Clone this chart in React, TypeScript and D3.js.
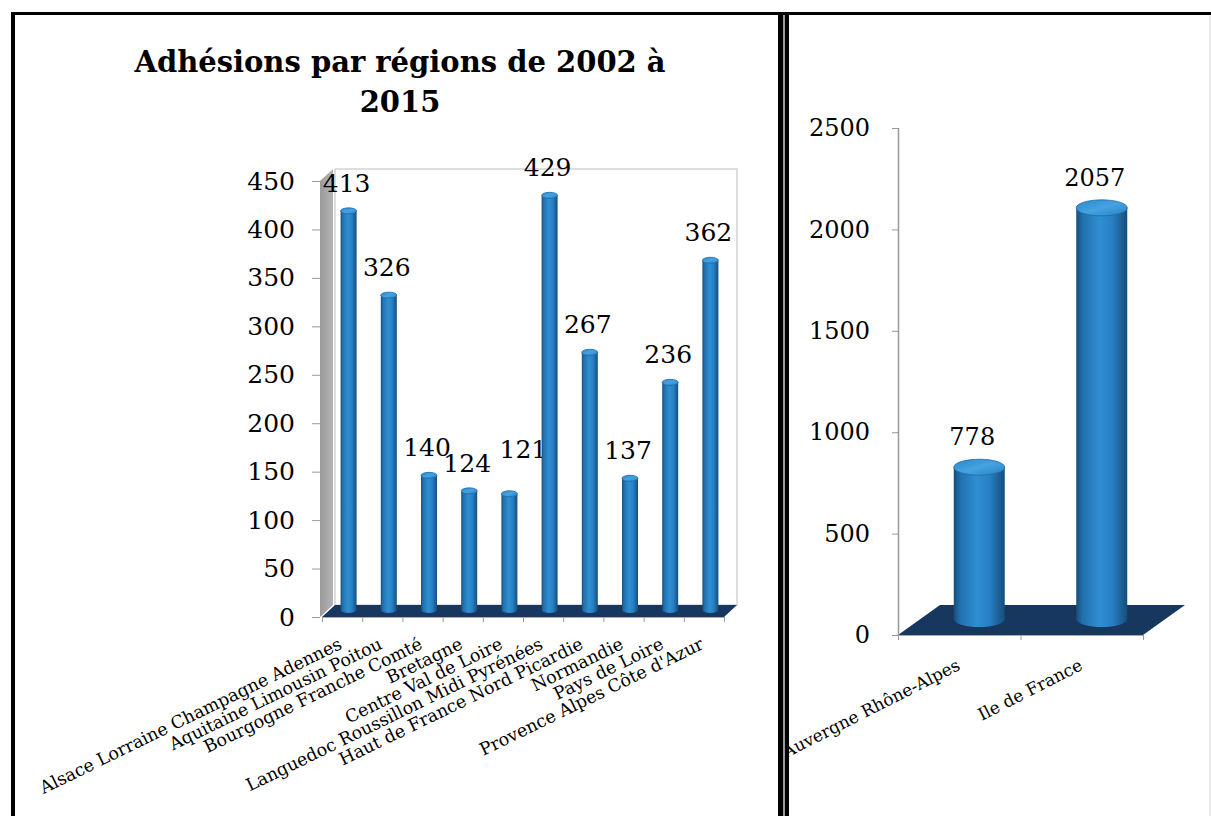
import React, { useRef, useEffect } from 'react';
import * as d3 from 'd3';

const leftRegions = [
  'Alsace Lorraine Champagne Adennes',
  'Aquitaine Limousin Poitou',
  'Bourgogne Franche Comté',
  'Bretagne',
  'Centre Val de Loire',
  'Languedoc Roussillon Midi Pyrénées',
  'Haut de France Nord Picardie',
  'Normandie',
  'Pays de Loire',
  "Provence Alpes Côte d'Azur",
];
const leftValues = [413, 326, 140, 124, 121, 429, 267, 137, 236, 362];
const leftTicks = [0, 50, 100, 150, 200, 250, 300, 350, 400, 450];

const rightRegions = ['Auvergne Rhône-Alpes', 'Ile de France'];
const rightValues = [778, 2057];
const rightTicks = [0, 500, 1000, 1500, 2000, 2500];

const titleLines = ['Adhésions par régions de 2002 à', '2015'];

const W = 1211;
const H = 816;
const numFont = '"DejaVu Serif", serif';

const App = () => {
  const ref = useRef<SVGSVGElement>(null);

  useEffect(() => {
    const svg = d3.select(ref.current);
    svg.selectAll('*').remove();

    const defs = svg.append('defs');
    const cyl = defs.append('linearGradient').attr('id', 'cyl').attr('x1', 0).attr('x2', 1).attr('y1', 0).attr('y2', 0);
    [[0, '#164d7b'], [0.12, '#216fad'], [0.45, '#2f8fd2'], [0.7, '#2880c4'], [1, '#164d7b']].forEach(([o, c]) =>
      cyl.append('stop').attr('offset', o as number).attr('stop-color', c as string));
    const cap = defs.append('linearGradient').attr('id', 'cap').attr('x1', 0).attr('x2', 1).attr('y1', 0).attr('y2', 1);
    [[0, '#2a86c9'], [0.5, '#45a3e2'], [1, '#2a80c0']].forEach(([o, c]) =>
      cap.append('stop').attr('offset', o as number).attr('stop-color', c as string));
    const wall = defs.append('linearGradient').attr('id', 'wall').attr('x1', 0).attr('x2', 1).attr('y1', 0).attr('y2', 0);
    wall.append('stop').attr('offset', 0).attr('stop-color', '#9a9a9a');
    wall.append('stop').attr('offset', 1).attr('stop-color', '#b4b4b4');
    defs.append('clipPath').attr('id', 'rclip').append('rect').attr('x', 789).attr('y', 0).attr('width', W - 789).attr('height', H);

    svg.append('rect').attr('width', W).attr('height', H).attr('fill', '#fff');

    const cylinder = (g, cx, yTop, yBot, w, ry) => {
      g.append('rect').attr('x', cx - w / 2).attr('y', yTop).attr('width', w).attr('height', yBot - yTop).attr('fill', 'url(#cyl)');
      g.append('ellipse').attr('cx', cx).attr('cy', yBot).attr('rx', w / 2).attr('ry', ry).attr('fill', 'url(#cyl)');
      g.append('ellipse').attr('cx', cx).attr('cy', yTop).attr('rx', w / 2).attr('ry', ry).attr('fill', 'url(#cap)')
        .attr('stroke', '#1f6aa6').attr('stroke-width', 0.8);
    };

    // ---- left chart
    const L = svg.append('g');
    const yL = d3.scaleLinear().domain([0, 450]).range([617, 181]);
    const xL = d3.scaleBand().domain(leftRegions).range([322, 724]);
    const dxL = 13, dyL = -12;
    // Excel moved the "121" label aside to avoid the neighbouring one
    const labelNudge: Record<number, [number, number]> = { 4: [16, -17] };

    L.append('text').attr('x', 400).attr('text-anchor', 'middle')
      .attr('font-family', numFont).attr('font-weight', 'bold').attr('font-size', 29)
      .selectAll('tspan').data(titleLines).join('tspan')
      .attr('x', 400).attr('y', (d, i) => 72 + i * 40).text(d => d);

    // back wall
    L.append('rect').attr('x', 322 + dxL).attr('y', yL(450) + dyL).attr('width', 724 - 322)
      .attr('height', yL(0) - yL(450)).attr('fill', '#fff').attr('stroke', '#d4d4d4').attr('stroke-width', 1.5);
    // side wall
    L.append('polygon').attr('points', [[320, yL(450)], [320 + dxL, yL(450) + dyL], [320 + dxL, yL(0) + dyL], [320, yL(0)]].join(' '))
      .attr('fill', 'url(#wall)');
    // floor
    L.append('polygon').attr('points', [[322, yL(0)], [724, yL(0)], [724 + dxL, yL(0) + dyL], [322 + dxL, yL(0) + dyL]].join(' '))
      .attr('fill', '#17375e');

    const gl = L.append('g');
    leftRegions.forEach((r, i) => {
      const cx = xL(r)! + xL.bandwidth() / 2 + dxL / 2;
      const [nx, ny] = labelNudge[i] || [0, 0];
      cylinder(gl, cx, yL(leftValues[i]) + dyL / 2, yL(0) + dyL / 2 - 1, 16, 3);
      gl.append('text').attr('x', cx - 2 + nx).attr('y', yL(leftValues[i]) + dyL / 2 - 19 + ny)
        .attr('text-anchor', 'middle').attr('font-family', numFont).attr('font-size', 25).text(leftValues[i]);
    });

    // axes
    const axL = L.append('g').attr('transform', 'translate(320,0)')
      .call(d3.axisLeft(yL).tickValues(leftTicks).tickSize(8).tickPadding(17).tickFormat(d3.format('d')));
    axL.select('.domain').remove();
    axL.selectAll('line').attr('stroke', '#999');
    axL.selectAll('text').attr('font-family', numFont).attr('font-size', 25).attr('fill', '#000');

    const axLb = L.append('g').attr('transform', `translate(0,${yL(0)})`)
      .call(d3.axisBottom(d3.scaleLinear().domain([0, leftRegions.length]).range([322, 724]))
        .tickValues(d3.range(leftRegions.length + 1)).tickSize(5).tickFormat(() => ''));
    axLb.select('.domain').attr('stroke', '#aaa').attr('d', 'M322,0.5H724');
    axLb.selectAll('line').attr('stroke', '#999');

    L.append('g').selectAll('text').data(leftRegions).join('text')
      .attr('transform', d => `translate(${xL(d)! + xL.bandwidth() / 2 + 1},648) rotate(-26)`)
      .attr('text-anchor', 'end').attr('font-family', numFont).attr('font-size', 17.5).text(d => d);

    // ---- right chart
    const R = svg.append('g');
    const yR = d3.scaleLinear().domain([0, 2500]).range([635, 128]);
    const xR = d3.scaleBand().domain(rightRegions).range([898, 1143]);
    const dxR = 42, dyR = -30;

    R.append('polygon').attr('points', [[898, yR(0)], [1143, yR(0)], [1143 + dxR, yR(0) + dyR], [898 + dxR, yR(0) + dyR]].join(' '))
      .attr('fill', '#17375e');

    const axR = R.append('g').attr('transform', 'translate(898,0)')
      .call(d3.axisLeft(yR).tickValues(rightTicks).tickSize(6).tickPadding(22).tickFormat(d3.format('d')));
    axR.select('.domain').attr('stroke', '#999').attr('stroke-width', 1.5).attr('d', `M0.5,${yR(2500)}V${yR(0)}`);
    axR.selectAll('line').attr('stroke', '#999');
    axR.selectAll('text').attr('font-family', numFont).attr('font-size', 24).attr('fill', '#000');

    const axRb = R.append('g').attr('transform', `translate(0,${yR(0)})`)
      .call(d3.axisBottom(d3.scaleLinear().domain([0, 2]).range([898, 1143])).tickValues([0, 1, 2]).tickSize(5).tickFormat(() => ''));
    axRb.select('.domain').attr('stroke', '#aaa').attr('d', 'M898,0.5H1143');
    axRb.selectAll('line').attr('stroke', '#999');

    rightRegions.forEach((r, i) => {
      const cx = xR(r)! + xR.bandwidth() / 2 + dxR / 2 - 1;
      cylinder(R, cx, yR(rightValues[i]) + dyR / 2 + 5, yR(0) + dyR / 2 - 1, 51, 8);
      R.append('text').attr('x', cx - 7).attr('y', yR(rightValues[i]) + dyR / 2 - 17)
        .attr('text-anchor', 'middle').attr('font-family', numFont).attr('font-size', 24).text(rightValues[i]);
    });

    R.append('g').attr('clip-path', 'url(#rclip)').selectAll('text').data(rightRegions).join('text')
      .attr('transform', d => `translate(${xR(d)! + xR.bandwidth() / 2 + 2},669) rotate(-27)`)
      .attr('text-anchor', 'end').attr('font-family', numFont).attr('font-size', 17).text(d => d);

    // ---- frames
    const F = svg.append('g');
    F.append('rect').attr('x', 11).attr('y', 12).attr('width', W - 11).attr('height', 3).attr('fill', '#000');
    F.append('rect').attr('x', 11).attr('y', 12).attr('width', 4).attr('height', H).attr('fill', '#000');
    F.append('rect').attr('x', 778).attr('y', 12).attr('width', 5).attr('height', H).attr('fill', '#000');
    F.append('rect').attr('x', 783).attr('y', 15).attr('width', 2).attr('height', H).attr('fill', '#9a9a9a');
    F.append('rect').attr('x', 785).attr('y', 12).attr('width', 4).attr('height', H).attr('fill', '#000');
    F.append('rect').attr('x', 1209.5).attr('y', 15).attr('width', 1).attr('height', H).attr('fill', '#d8d8d8');
  }, []);

  return <svg ref={ref} width={W} height={H} style={{ position: 'absolute', left: 0, top: 0 }} />;
};

export default App;
